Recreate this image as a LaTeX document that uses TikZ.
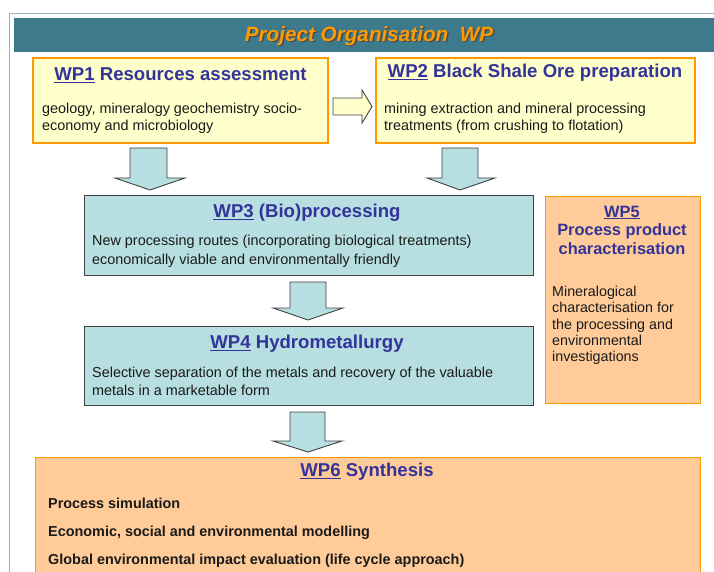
\documentclass[tikz,border=0pt]{standalone}
\usepackage{fontspec}
\setmainfont{Liberation Sans}
\usetikzlibrary{calc}
\definecolor{barc}{HTML}{3D7A8C}
\definecolor{framec}{HTML}{8FB5BE}
\definecolor{ylwc}{HTML}{FFFFCC}
\definecolor{orc}{HTML}{FF9900}
\definecolor{bluec}{HTML}{B7DEE0}
\definecolor{peachc}{HTML}{FFCC99}
\definecolor{navyc}{HTML}{333399}
\definecolor{bordc}{HTML}{404040}
\definecolor{txtc}{HTML}{1A1A1A}
\tikzset{
  ybox/.style={draw=orc, line width=2pt, fill=ylwc, inner sep=0pt},
  bbox/.style={draw=bordc, line width=0.9pt, fill=bluec, inner sep=0pt},
  obox/.style={draw=orc, line width=1pt, fill=peachc, inner sep=0pt},
  wptitle/.style={text=navyc, font=\fontsize{18.6}{21}\selectfont\bfseries, inner sep=0pt},
  bodytxt/.style={text=txtc, font=\fontsize{14.4}{17.5}\selectfont, align=left, anchor=west, inner sep=0pt},
  blockarrow/.style={draw=bordc, line width=0.9pt, fill=bluec, line join=miter},
}
\begin{document}
\begin{tikzpicture}[x=1pt,y=-1pt]
\useasboundingbox (0,0) rectangle (714,572);
\fill[white] (0,0) rectangle (714,572);
\draw[framec, line width=1pt] (9,580) -- (9,14) -- (720,14);
% title bar
\fill[barc] (14,18) rectangle (720,52);
\node[text=black!70, font=\fontsize{20.7}{24}\selectfont\bfseries\itshape, inner sep=0pt] (shadow) at (370.5,37.5) {Project Organisation\ \ WP};
\node[text=orc, font=\fontsize{20.7}{24}\selectfont\bfseries\itshape, inner sep=0pt] (title) at (369,36) {Project Organisation\ \ WP};
% boxes
\node[ybox, minimum width=295pt, minimum height=85pt] (wp1) at (180.5,100.5) {};
\node[ybox, minimum width=319pt, minimum height=85pt] (wp2) at (535.5,100.5) {};
\node[bbox, minimum width=449pt, minimum height=80pt] (wp3) at (308.5,235) {};
\node[bbox, minimum width=449pt, minimum height=79pt] (wp4) at (308.5,365.5) {};
\node[obox, minimum width=155pt, minimum height=207pt] (wp5) at (622.5,299.5) {};
\node[obox, minimum width=665pt, minimum height=130pt] (wp6) at (367.5,522) {};
% titles
\node[wptitle] (t1) at (180.5,75) {\underline{WP1} Resources assessment};
\node[wptitle] (t2) at (535,73) {\underline{WP2} Black Shale Ore preparation};
\node[wptitle] (t3) at (307,213) {\underline{WP3} (Bio)processing};
\node[wptitle] (t4) at (307,344) {\underline{WP4} Hydrometallurgy};
\node[wptitle, font=\fontsize{16.4}{18.5}\selectfont\bfseries, align=center] (t5) at (622,230) {\underline{WP5}\\Process product\\characterisation};
\node[wptitle] (t6) at (367,472) {\underline{WP6} Synthesis};
% bodies
\node[bodytxt] (b1) at (42,118.5) {geology, mineralogy geochemistry socio-\\economy and microbiology};
\node[bodytxt] (b2) at (384,118.5) {mining extraction and mineral processing\\treatments (from crushing to flotation)};
\node[bodytxt, font=\fontsize{14.4}{19}\selectfont] (b3) at (92,251.5) {New processing routes (incorporating biological treatments)\\economically viable and environmentally friendly};
\node[bodytxt] (b4) at (92,381.5) {Selective separation of the metals and recovery of the valuable\\metals in a marketable form};
\node[bodytxt, font=\fontsize{14.3}{16.3}\selectfont] (b5) at (552,325.5) {Mineralogical\\characterisation for\\the processing and\\environmental\\investigations};
\node[bodytxt, font=\fontsize{14.4}{28}\selectfont\bfseries] (b6) at (48,533) {Process simulation\\Economic, social and environmental modelling\\Global environmental impact evaluation (life cycle approach)};
% block arrows
\draw[draw=bordc, line width=0.9pt, fill=ylwc] (333,98) -- (362,98) -- (362,90) -- (372,106.5) -- (362,123) -- (362,115) -- (333,115) -- cycle;
\draw[blockarrow] (130,148) -- (167,148) -- (167,178) -- (185,178) -- (150,190) -- (115,178) -- (130,178) -- cycle;
\draw[blockarrow] (442,148) -- (478,148) -- (478,178) -- (495,178) -- (460,190) -- (427,178) -- (442,178) -- cycle;
\draw[blockarrow] (290,282) -- (326,282) -- (326,308) -- (343,308) -- (308,320) -- (273,308) -- (290,308) -- cycle;
\draw[blockarrow] (290,412) -- (325,412) -- (325,441) -- (342,441) -- (308,452) -- (273,441) -- (290,441) -- cycle;
\end{tikzpicture}
\end{document}
